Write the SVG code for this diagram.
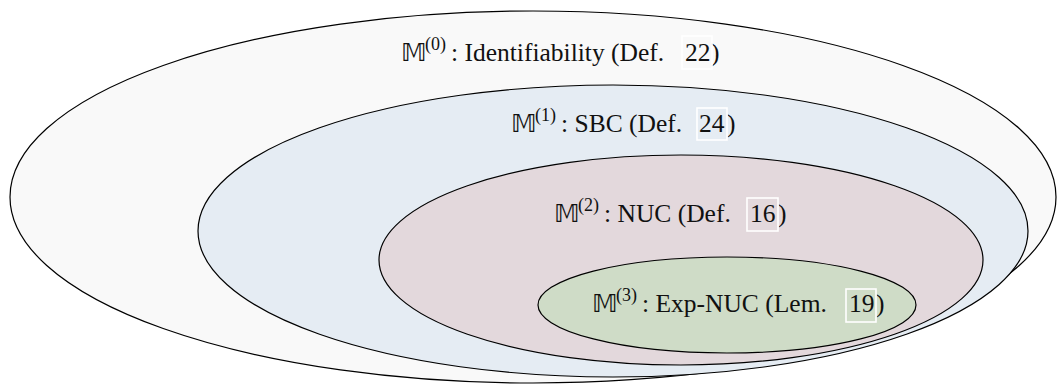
<svg xmlns="http://www.w3.org/2000/svg" width="1057" height="385" viewBox="0 0 1057 385">
  <style>
    .set { stroke: #000; stroke-width: 1.2; }
    .lbl { font-family: "Liberation Serif", "Times New Roman", "DejaVu Serif", serif; font-size: 25.5px; fill: #111; }
    .bb { font-family: "DejaVu Sans", "DejaVu Serif", sans-serif; font-size: 25px; fill: #111; }
    .sup { font-family: "Liberation Serif", "Times New Roman", serif; font-size: 18px; fill: #111; }
    .ref { fill: none; stroke: #fff; stroke-width: 1.6; }
  </style>
  <rect width="1057" height="385" fill="#fff"/>

  <!-- nested model classes, outermost first -->
  <g id="m0">
    <ellipse class="set" cx="533" cy="197" rx="523" ry="186" fill="#f9f9f9"/>
    <text class="bb" x="401" y="61">𝕄</text>
    <text class="sup" x="425" y="50">(0)</text>
    <text class="lbl" x="451" y="61" font-family="Liberation Serif, serif">: Identifiability (Def. <tspan x="685">22</tspan><tspan x="711">)</tspan></text>
    <rect class="ref" x="682" y="36" width="30" height="33"/>
  </g>

  <g id="m1">
    <ellipse class="set" cx="613" cy="231" rx="415" ry="146" fill="#e5ecf3"/>
    <text class="bb" x="511" y="132">𝕄</text>
    <text class="sup" x="535" y="121">(1)</text>
    <text class="lbl" x="561" y="132" font-family="Liberation Serif, serif">: SBC (Def. <tspan x="699">24</tspan><tspan x="727">)</tspan></text>
    <rect class="ref" x="697" y="108" width="30" height="32"/>
  </g>

  <g id="m2">
    <ellipse class="set" cx="681" cy="260" rx="302" ry="105" fill="#e3d8dc"/>
    <text class="bb" x="554" y="222">𝕄</text>
    <text class="sup" x="578" y="211">(2)</text>
    <text class="lbl" x="604" y="222" font-family="Liberation Serif, serif">: NUC (Def. <tspan x="750">16</tspan><tspan x="778">)</tspan></text>
    <rect class="ref" x="747" y="198" width="31" height="33"/>
  </g>

  <g id="m3">
    <ellipse class="set" cx="727" cy="305" rx="189" ry="48" fill="#cfdcc7"/>
    <text class="bb" x="592" y="312">𝕄</text>
    <text class="sup" x="616" y="301">(3)</text>
    <text class="lbl" x="642" y="312" font-family="Liberation Serif, serif">: Exp-NUC (Lem. <tspan x="849">19</tspan><tspan x="876">)</tspan></text>
    <rect class="ref" x="846" y="289" width="30" height="33"/>
  </g>

  <g id="connectors"/>
</svg>
